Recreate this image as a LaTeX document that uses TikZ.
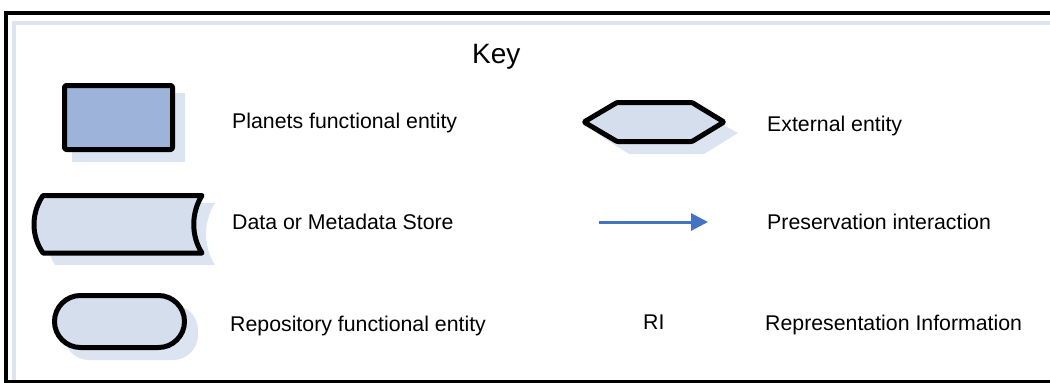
\documentclass[tikz,border=0pt]{standalone}
\usepackage{fontspec}
\setmainfont{Liberation Sans}
\usetikzlibrary{arrows.meta}
\definecolor{shadowblue}{HTML}{DCE4F1}
\definecolor{lightfill}{HTML}{D5DEED}
\definecolor{darkfill}{HTML}{9DB3DA}
\definecolor{arrowblue}{HTML}{4472C4}
\tikzset{
  keyshape/.style={draw=black, line width=5pt, line join=round, rounded corners=2pt},
  shadowshape/.style={fill=shadowblue, draw=none},
  label/.style={anchor=base west, inner sep=0pt, font=\fontsize{21.3}{24}\selectfont},
}
\begin{document}
\begin{tikzpicture}[x=1pt,y=-1pt]
\useasboundingbox (0,0) rectangle (1050,383);
% frame shadow
\draw[shadowblue, line width=4pt] (14,380) -- (14,23) -- (1050,23);
% frame
\draw[black, line width=4pt] (1050,13) -- (6,13) -- (6,381);
\draw[black, line width=3pt] (4,381.5) -- (1050,381.5);

% title
\node[anchor=base west, inner sep=0pt, font=\fontsize{28}{32}\selectfont] (key) at (472,63) {Key};

% Planets functional entity (rectangle)
\fill[shadowblue] (72,93) rectangle (185,162);
\draw[keyshape, fill=darkfill] (64.5,85.5) rectangle (172.5,149.5);
\node[label] (t1) at (232,128) {Planets functional entity};

% Data store
\fill[shadowblue] (55,203) -- (215,203) .. controls (203,222) and (203,246) .. (215,265) -- (55,265) .. controls (43,246) and (43,222) .. (55,203) -- cycle;
\draw[keyshape, fill=lightfill, rounded corners=0pt] (43,195.5) -- (202,195.5) .. controls (191,213) and (191,236) .. (202,253) -- (43,253) .. controls (31,236) and (31,213) .. (43,195.5) -- cycle;
\node[label] (t2) at (232,229) {Data or Metadata Store};

% Repository functional entity (pill)
\fill[shadowblue, rounded corners=25pt] (64,305) rectangle (198,360);
\draw[keyshape, fill=lightfill, rounded corners=26pt] (54.5,295.5) rectangle (184.5,347.5);
\node[label] (t3) at (230,331) {Repository functional entity};

% External entity (hexagon)
\fill[shadowblue] (596,133) -- (629,114) -- (704,114) -- (738,133) -- (704,154) -- (629,154) -- cycle;
\draw[keyshape, fill=lightfill, rounded corners=1pt] (584,122) -- (617,102.5) -- (692,102.5) -- (724,122) -- (692,141.5) -- (617,141.5) -- cycle;
\node[label] (t4) at (767,131) {External entity};

% Preservation interaction (arrow)
\coordinate (a1) at (599,222);
\coordinate (a2) at (708,222);
\draw[arrowblue, line width=3pt, -{Triangle[length=17pt,width=17pt]}] (a1) -- (a2);
\node[label] (t5) at (767,229) {Preservation interaction};

% Representation Information
\node[label] (ri) at (643,329) {RI};
\node[label] (t6) at (765,330) {Representation Information};
\end{tikzpicture}
\end{document}
